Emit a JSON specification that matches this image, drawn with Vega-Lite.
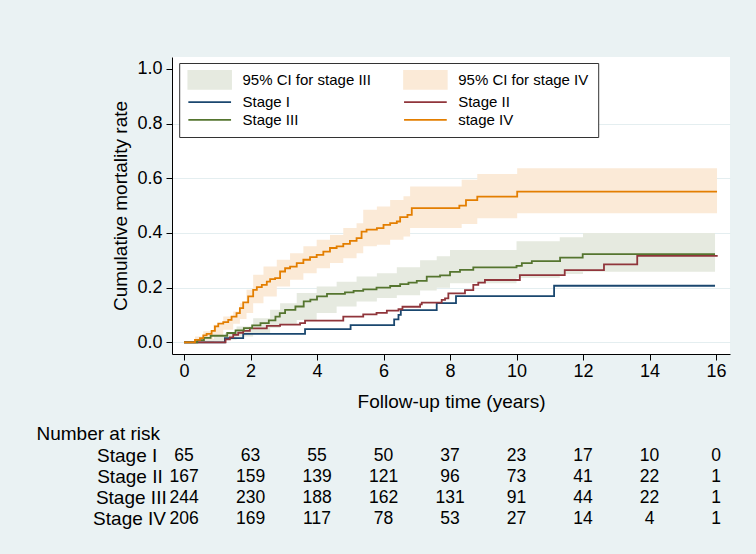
{
  "$schema": "https://vega.github.io/schema/vega-lite/v6.json",
  "background": "#eaf2f3",
  "padding": {"left": 36, "top": 57, "right": 26, "bottom": 25},
  "bounds": "flush",
  "spacing": 91,
  "config": {
    "font": "Liberation Sans",
    "view": {"stroke": null},
    "axis": {
      "labelFont": "Liberation Sans",
      "titleFont": "Liberation Sans",
      "labelColor": "black",
      "titleColor": "black",
      "titleFontWeight": "normal"
    }
  },
  "datasets": {
    "km": [
      {"series": "Stage I", "time": 0, "rate": 0},
      {"series": "Stage I", "time": 1.23, "rate": 0.015},
      {"series": "Stage I", "time": 1.78, "rate": 0.031},
      {"series": "Stage I", "time": 3.64, "rate": 0.048},
      {"series": "Stage I", "time": 5.01, "rate": 0.063},
      {"series": "Stage I", "time": 6.32, "rate": 0.084},
      {"series": "Stage I", "time": 6.45, "rate": 0.1},
      {"series": "Stage I", "time": 6.52, "rate": 0.118},
      {"series": "Stage I", "time": 7.6, "rate": 0.143},
      {"series": "Stage I", "time": 8.18, "rate": 0.169},
      {"series": "Stage I", "time": 11.13, "rate": 0.207},
      {"series": "Stage I", "time": 15.97, "rate": 0.207},

      {"series": "Stage II", "time": 0, "rate": 0},
      {"series": "Stage II", "time": 1.25, "rate": 0.011},
      {"series": "Stage II", "time": 1.38, "rate": 0.018},
      {"series": "Stage II", "time": 1.48, "rate": 0.027},
      {"series": "Stage II", "time": 1.63, "rate": 0.035},
      {"series": "Stage II", "time": 1.78, "rate": 0.042},
      {"series": "Stage II", "time": 1.98, "rate": 0.051},
      {"series": "Stage II", "time": 2.49, "rate": 0.06},
      {"series": "Stage II", "time": 2.89, "rate": 0.065},
      {"series": "Stage II", "time": 3.49, "rate": 0.07},
      {"series": "Stage II", "time": 3.64, "rate": 0.079},
      {"series": "Stage II", "time": 4.79, "rate": 0.094},
      {"series": "Stage II", "time": 5.39, "rate": 0.102},
      {"series": "Stage II", "time": 5.79, "rate": 0.108},
      {"series": "Stage II", "time": 6.1, "rate": 0.116},
      {"series": "Stage II", "time": 6.45, "rate": 0.121},
      {"series": "Stage II", "time": 6.57, "rate": 0.13},
      {"series": "Stage II", "time": 7.1, "rate": 0.139},
      {"series": "Stage II", "time": 7.15, "rate": 0.145},
      {"series": "Stage II", "time": 7.75, "rate": 0.155},
      {"series": "Stage II", "time": 7.85, "rate": 0.161},
      {"series": "Stage II", "time": 7.95, "rate": 0.179},
      {"series": "Stage II", "time": 8.45, "rate": 0.191},
      {"series": "Stage II", "time": 8.7, "rate": 0.21},
      {"series": "Stage II", "time": 8.85, "rate": 0.218},
      {"series": "Stage II", "time": 9.05, "rate": 0.228},
      {"series": "Stage II", "time": 10.1, "rate": 0.246},
      {"series": "Stage II", "time": 11.45, "rate": 0.264},
      {"series": "Stage II", "time": 12.63, "rate": 0.285},
      {"series": "Stage II", "time": 13.63, "rate": 0.316},
      {"series": "Stage II", "time": 16.05, "rate": 0.316},

      {"series": "Stage III", "time": 0, "rate": 0},
      {"series": "Stage III", "time": 0.4, "rate": 0.008},
      {"series": "Stage III", "time": 0.6, "rate": 0.016},
      {"series": "Stage III", "time": 0.8, "rate": 0.024},
      {"series": "Stage III", "time": 1.3, "rate": 0.034},
      {"series": "Stage III", "time": 1.55, "rate": 0.044},
      {"series": "Stage III", "time": 1.8, "rate": 0.052},
      {"series": "Stage III", "time": 2.05, "rate": 0.062},
      {"series": "Stage III", "time": 2.3, "rate": 0.07},
      {"series": "Stage III", "time": 2.55, "rate": 0.08},
      {"series": "Stage III", "time": 2.75, "rate": 0.094},
      {"series": "Stage III", "time": 2.88, "rate": 0.107},
      {"series": "Stage III", "time": 3.04, "rate": 0.119},
      {"series": "Stage III", "time": 3.35, "rate": 0.131},
      {"series": "Stage III", "time": 3.6, "rate": 0.15},
      {"series": "Stage III", "time": 3.8, "rate": 0.156},
      {"series": "Stage III", "time": 4.0, "rate": 0.168},
      {"series": "Stage III", "time": 4.3, "rate": 0.177},
      {"series": "Stage III", "time": 4.84, "rate": 0.183},
      {"series": "Stage III", "time": 5.1, "rate": 0.188},
      {"series": "Stage III", "time": 5.39, "rate": 0.194},
      {"series": "Stage III", "time": 5.79, "rate": 0.2},
      {"series": "Stage III", "time": 6.2, "rate": 0.206},
      {"series": "Stage III", "time": 6.5, "rate": 0.213},
      {"series": "Stage III", "time": 6.75, "rate": 0.218},
      {"series": "Stage III", "time": 7.0, "rate": 0.225},
      {"series": "Stage III", "time": 7.3, "rate": 0.24},
      {"series": "Stage III", "time": 7.7, "rate": 0.245},
      {"series": "Stage III", "time": 8.0, "rate": 0.258},
      {"series": "Stage III", "time": 8.3, "rate": 0.265},
      {"series": "Stage III", "time": 8.7, "rate": 0.274},
      {"series": "Stage III", "time": 10.0, "rate": 0.28},
      {"series": "Stage III", "time": 10.16, "rate": 0.29},
      {"series": "Stage III", "time": 10.46, "rate": 0.297},
      {"series": "Stage III", "time": 11.31, "rate": 0.31},
      {"series": "Stage III", "time": 11.99, "rate": 0.323},
      {"series": "Stage III", "time": 15.97, "rate": 0.323},

      {"series": "stage IV", "time": 0, "rate": 0},
      {"series": "stage IV", "time": 0.33, "rate": 0.009},
      {"series": "stage IV", "time": 0.48, "rate": 0.015},
      {"series": "stage IV", "time": 0.58, "rate": 0.025},
      {"series": "stage IV", "time": 0.68, "rate": 0.031},
      {"series": "stage IV", "time": 0.83, "rate": 0.042},
      {"series": "stage IV", "time": 0.93, "rate": 0.058},
      {"series": "stage IV", "time": 1.03, "rate": 0.068},
      {"series": "stage IV", "time": 1.18, "rate": 0.074},
      {"series": "stage IV", "time": 1.33, "rate": 0.082},
      {"series": "stage IV", "time": 1.43, "rate": 0.094},
      {"series": "stage IV", "time": 1.58, "rate": 0.107},
      {"series": "stage IV", "time": 1.68, "rate": 0.125},
      {"series": "stage IV", "time": 1.78, "rate": 0.146},
      {"series": "stage IV", "time": 1.93, "rate": 0.168},
      {"series": "stage IV", "time": 2.08, "rate": 0.192},
      {"series": "stage IV", "time": 2.19, "rate": 0.202},
      {"series": "stage IV", "time": 2.34, "rate": 0.21},
      {"series": "stage IV", "time": 2.49, "rate": 0.222},
      {"series": "stage IV", "time": 2.59, "rate": 0.231},
      {"series": "stage IV", "time": 2.74, "rate": 0.235},
      {"series": "stage IV", "time": 2.89, "rate": 0.259},
      {"series": "stage IV", "time": 3.04, "rate": 0.271},
      {"series": "stage IV", "time": 3.19, "rate": 0.277},
      {"series": "stage IV", "time": 3.39, "rate": 0.29},
      {"series": "stage IV", "time": 3.59, "rate": 0.302},
      {"series": "stage IV", "time": 3.79, "rate": 0.312},
      {"series": "stage IV", "time": 3.99, "rate": 0.32},
      {"series": "stage IV", "time": 4.19, "rate": 0.332},
      {"series": "stage IV", "time": 4.39, "rate": 0.345},
      {"series": "stage IV", "time": 4.59, "rate": 0.351},
      {"series": "stage IV", "time": 4.79, "rate": 0.36},
      {"series": "stage IV", "time": 4.99, "rate": 0.371},
      {"series": "stage IV", "time": 5.19, "rate": 0.381},
      {"series": "stage IV", "time": 5.34, "rate": 0.405},
      {"series": "stage IV", "time": 5.49, "rate": 0.412},
      {"series": "stage IV", "time": 5.8, "rate": 0.418},
      {"series": "stage IV", "time": 6.0, "rate": 0.43},
      {"series": "stage IV", "time": 6.2, "rate": 0.436},
      {"series": "stage IV", "time": 6.4, "rate": 0.442},
      {"series": "stage IV", "time": 6.5, "rate": 0.458},
      {"series": "stage IV", "time": 6.72, "rate": 0.466},
      {"series": "stage IV", "time": 6.85, "rate": 0.491},
      {"series": "stage IV", "time": 8.28, "rate": 0.5},
      {"series": "stage IV", "time": 8.48, "rate": 0.52},
      {"series": "stage IV", "time": 8.82, "rate": 0.533},
      {"series": "stage IV", "time": 10.02, "rate": 0.551},
      {"series": "stage IV", "time": 16.03, "rate": 0.551}
    ],
    "ci": [
      {"series": "95% CI for stage III", "time": 0, "lower": 0, "upper": 0},
      {"series": "95% CI for stage III", "time": 0.5, "lower": 0, "upper": 0.012},
      {"series": "95% CI for stage III", "time": 0.9, "lower": 0.004, "upper": 0.022},
      {"series": "95% CI for stage III", "time": 1.23, "lower": 0.009, "upper": 0.034},
      {"series": "95% CI for stage III", "time": 1.58, "lower": 0.021, "upper": 0.058},
      {"series": "95% CI for stage III", "time": 2.08, "lower": 0.034, "upper": 0.088},
      {"series": "95% CI for stage III", "time": 2.59, "lower": 0.052, "upper": 0.119},
      {"series": "95% CI for stage III", "time": 2.89, "lower": 0.064, "upper": 0.143},
      {"series": "95% CI for stage III", "time": 3.39, "lower": 0.082, "upper": 0.18},
      {"series": "95% CI for stage III", "time": 3.99, "lower": 0.107, "upper": 0.204},
      {"series": "95% CI for stage III", "time": 4.59, "lower": 0.131, "upper": 0.222},
      {"series": "95% CI for stage III", "time": 5.19, "lower": 0.149, "upper": 0.241},
      {"series": "95% CI for stage III", "time": 5.8, "lower": 0.162, "upper": 0.253},
      {"series": "95% CI for stage III", "time": 6.4, "lower": 0.172, "upper": 0.275},
      {"series": "95% CI for stage III", "time": 7.1, "lower": 0.19, "upper": 0.3},
      {"series": "95% CI for stage III", "time": 7.6, "lower": 0.2, "upper": 0.315},
      {"series": "95% CI for stage III", "time": 8.0, "lower": 0.216, "upper": 0.338},
      {"series": "95% CI for stage III", "time": 10.0, "lower": 0.235, "upper": 0.37},
      {"series": "95% CI for stage III", "time": 11.3, "lower": 0.25, "upper": 0.384},
      {"series": "95% CI for stage III", "time": 12.0, "lower": 0.258, "upper": 0.4},
      {"series": "95% CI for stage III", "time": 15.97, "lower": 0.258, "upper": 0.4},

      {"series": "95% CI for stage IV", "time": 0, "lower": 0, "upper": 0},
      {"series": "95% CI for stage IV", "time": 0.33, "lower": 0, "upper": 0.021},
      {"series": "95% CI for stage IV", "time": 0.58, "lower": 0.009, "upper": 0.04},
      {"series": "95% CI for stage IV", "time": 0.88, "lower": 0.027, "upper": 0.064},
      {"series": "95% CI for stage IV", "time": 1.18, "lower": 0.046, "upper": 0.094},
      {"series": "95% CI for stage IV", "time": 1.48, "lower": 0.068, "upper": 0.113},
      {"series": "95% CI for stage IV", "time": 1.68, "lower": 0.085, "upper": 0.143},
      {"series": "95% CI for stage IV", "time": 1.88, "lower": 0.107, "upper": 0.192},
      {"series": "95% CI for stage IV", "time": 2.08, "lower": 0.143, "upper": 0.247},
      {"series": "95% CI for stage IV", "time": 2.39, "lower": 0.168, "upper": 0.277},
      {"series": "95% CI for stage IV", "time": 2.79, "lower": 0.204, "upper": 0.302},
      {"series": "95% CI for stage IV", "time": 3.19, "lower": 0.229, "upper": 0.326},
      {"series": "95% CI for stage IV", "time": 3.59, "lower": 0.253, "upper": 0.351},
      {"series": "95% CI for stage IV", "time": 3.99, "lower": 0.271, "upper": 0.375},
      {"series": "95% CI for stage IV", "time": 4.39, "lower": 0.29, "upper": 0.393},
      {"series": "95% CI for stage IV", "time": 4.79, "lower": 0.308, "upper": 0.418},
      {"series": "95% CI for stage IV", "time": 5.19, "lower": 0.326, "upper": 0.436},
      {"series": "95% CI for stage IV", "time": 5.39, "lower": 0.351, "upper": 0.485},
      {"series": "95% CI for stage IV", "time": 5.8, "lower": 0.357, "upper": 0.497},
      {"series": "95% CI for stage IV", "time": 6.2, "lower": 0.375, "upper": 0.521},
      {"series": "95% CI for stage IV", "time": 6.6, "lower": 0.387, "upper": 0.534},
      {"series": "95% CI for stage IV", "time": 6.8, "lower": 0.418, "upper": 0.57},
      {"series": "95% CI for stage IV", "time": 8.35, "lower": 0.433, "upper": 0.595},
      {"series": "95% CI for stage IV", "time": 8.82, "lower": 0.454, "upper": 0.616},
      {"series": "95% CI for stage IV", "time": 10.02, "lower": 0.472, "upper": 0.637},
      {"series": "95% CI for stage IV", "time": 16.03, "lower": 0.472, "upper": 0.637}
    ],
    "risk": [
      {"stage": "Stage I", "time": 0, "n": 65},
      {"stage": "Stage I", "time": 2, "n": 63},
      {"stage": "Stage I", "time": 4, "n": 55},
      {"stage": "Stage I", "time": 6, "n": 50},
      {"stage": "Stage I", "time": 8, "n": 37},
      {"stage": "Stage I", "time": 10, "n": 23},
      {"stage": "Stage I", "time": 12, "n": 17},
      {"stage": "Stage I", "time": 14, "n": 10},
      {"stage": "Stage I", "time": 16, "n": 0},
      {"stage": "Stage II", "time": 0, "n": 167},
      {"stage": "Stage II", "time": 2, "n": 159},
      {"stage": "Stage II", "time": 4, "n": 139},
      {"stage": "Stage II", "time": 6, "n": 121},
      {"stage": "Stage II", "time": 8, "n": 96},
      {"stage": "Stage II", "time": 10, "n": 73},
      {"stage": "Stage II", "time": 12, "n": 41},
      {"stage": "Stage II", "time": 14, "n": 22},
      {"stage": "Stage II", "time": 16, "n": 1},
      {"stage": "Stage III", "time": 0, "n": 244},
      {"stage": "Stage III", "time": 2, "n": 230},
      {"stage": "Stage III", "time": 4, "n": 188},
      {"stage": "Stage III", "time": 6, "n": 162},
      {"stage": "Stage III", "time": 8, "n": 131},
      {"stage": "Stage III", "time": 10, "n": 91},
      {"stage": "Stage III", "time": 12, "n": 44},
      {"stage": "Stage III", "time": 14, "n": 22},
      {"stage": "Stage III", "time": 16, "n": 1},
      {"stage": "Stage IV", "time": 0, "n": 206},
      {"stage": "Stage IV", "time": 2, "n": 169},
      {"stage": "Stage IV", "time": 4, "n": 117},
      {"stage": "Stage IV", "time": 6, "n": 78},
      {"stage": "Stage IV", "time": 8, "n": 53},
      {"stage": "Stage IV", "time": 10, "n": 27},
      {"stage": "Stage IV", "time": 12, "n": 14},
      {"stage": "Stage IV", "time": 14, "n": 4},
      {"stage": "Stage IV", "time": 16, "n": 1}
    ]
  },
  "vconcat": [
    {
      "width": 558,
      "height": 297,
      "view": {"fill": "white", "stroke": null},
      "layer": [
        {
          "data": {"name": "ci"},
          "mark": {"type": "area", "interpolate": "step-after", "opacity": 1},
          "encoding": {
            "x": {"field": "time", "type": "quantitative",
                  "scale": {"domain": [-0.361, 16.42], "nice": false, "zero": false}},
            "y": {"field": "lower", "type": "quantitative",
                  "scale": {"domain": [-0.0428, 1.0439], "nice": false, "zero": false}},
            "y2": {"field": "upper"},
            "color": {"field": "series", "type": "nominal",
                      "scale": {
                        "domain": ["95% CI for stage III", "95% CI for stage IV", "Stage I", "Stage II", "Stage III", "stage IV"],
                        "range": ["#e6eae0", "#fbead7", "#1a476f", "#90353b", "#55752f", "#e37e00"]
                      }}
          }
        },
        {
          "data": {"name": "km"},
          "mark": {"type": "line", "interpolate": "step-after", "strokeWidth": 1.8},
          "encoding": {
            "x": {"field": "time", "type": "quantitative",
                  "scale": {"domain": [-0.361, 16.42], "nice": false, "zero": false},
                  "axis": {
                    "values": [0, 2, 4, 6, 8, 10, 12, 14, 16],
                    "format": "d",
                    "title": "Follow-up time (years)",
                    "titleFontSize": 19,
                    "titlePadding": 12,
                    "labelFontSize": 18,
                    "labelPadding": 2,
                    "tickSize": 6,
                    "tickColor": "black",
                    "domainColor": "black",
                    "grid": false
                  }},
            "y": {"field": "rate", "type": "quantitative",
                  "scale": {"domain": [-0.0428, 1.0439], "nice": false, "zero": false},
                  "axis": {
                    "values": [0, 0.2, 0.4, 0.6, 0.8, 1],
                    "format": ".1f",
                    "title": "Cumulative mortality rate",
                    "titleFontSize": 19,
                    "titlePadding": 6,
                    "labelFontSize": 18,
                    "labelPadding": 4,
                    "tickSize": 6,
                    "tickColor": "black",
                    "domainColor": "black",
                    "grid": true,
                    "gridColor": "#e4eef0",
                    "gridWidth": 1.2,
                    "gridOpacity": {"condition": {"test": "datum.value === 1", "value": 0}, "value": 1}
                  }},
            "color": {"field": "series", "type": "nominal",
                      "scale": {
                        "domain": ["95% CI for stage III", "95% CI for stage IV", "Stage I", "Stage II", "Stage III", "stage IV"],
                        "range": ["#e6eae0", "#fbead7", "#1a476f", "#90353b", "#55752f", "#e37e00"]
                      },
                      "legend": {
                        "title": null,
                        "orient": "none",
                        "legendX": 7.2,
                        "legendY": 6,
                        "columns": 2,
                        "direction": "horizontal",
                        "symbolSize": 16,
                        "symbolOffset": 14,
                        "symbolStrokeWidth": 1.8,
                        "labelFont": "Liberation Sans",
                        "labelFontSize": 15,
                        "labelColor": "black",
                        "labelOffset": 25.3,
                        "labelBaseline": "middle",
                        "labelLimit": 300,
                        "columnPadding": 28.7,
                        "rowPadding": 1.7,
                        "padding": 9,
                        "strokeColor": "#333333",
                        "fillColor": "white",
                        "encode": {
                          "symbols": {
                            "update": {
                              "shape": {"signal": "indexof(datum.value, 'CI') >= 0 ? 'M-10.675,-4.5H10.675V4.5H-10.675Z' : 'M-10.675,0H10.675'"},
                              "fill": {"signal": "datum.value === '95% CI for stage III' ? '#e6eae0' : datum.value === '95% CI for stage IV' ? '#fbead7' : 'transparent'"},
                              "stroke": {"signal": "datum.value === 'Stage I' ? '#1a476f' : datum.value === 'Stage II' ? '#90353b' : datum.value === 'Stage III' ? '#55752f' : datum.value === 'stage IV' ? '#e37e00' : 'transparent'"},
                              "strokeWidth": {"value": 1.8},
                              "opacity": {"value": 1}
                            }
                          }
                        }
                      }}
          }
        }
      ]
    },
    {
      "width": 558,
      "height": 84,
      "data": {"name": "risk"},
      "encoding": {
        "y": {"field": "stage", "type": "nominal",
              "sort": ["Stage I", "Stage II", "Stage III", "Stage IV"],
              "scale": {"paddingInner": 0, "paddingOuter": 0},
              "axis": {
                "title": "Number at risk",
                "titleAngle": 0,
                "titleAlign": "left",
                "titleBaseline": "middle",
                "titleX": -136,
                "titleY": -11.7,
                "titleFontSize": 19,
                "labels": false,
                "tickSize": 0,
                "ticks": false,
                "domain": false,
                "grid": false
              }}
      },
      "layer": [
        {
          "mark": {"type": "text", "font": "Liberation Sans", "fontSize": 17.5, "color": "black", "align": "center", "baseline": "middle"},
          "encoding": {
            "x": {"field": "time", "type": "quantitative",
                  "scale": {"domain": [-0.361, 16.42], "nice": false, "zero": false},
                  "axis": null},
            "text": {"field": "n", "type": "quantitative"}
          }
        },
        {
          "transform": [{"filter": "datum.time === 0"}],
          "mark": {"type": "text", "font": "Liberation Sans", "fontSize": 19, "color": "black", "align": "right", "baseline": "middle",
                   "dx": {"expr": "datum.stage === 'Stage II' ? -9.3 : datum.stage === 'Stage III' ? -5.3 : datum.stage === 'Stage IV' ? -6 : -14.7"}},
          "encoding": {
            "x": {"datum": -0.361, "type": "quantitative",
                  "scale": {"domain": [-0.361, 16.42], "nice": false, "zero": false}},
            "text": {"field": "stage", "type": "nominal"}
          }
        }
      ]
    }
  ]
}
